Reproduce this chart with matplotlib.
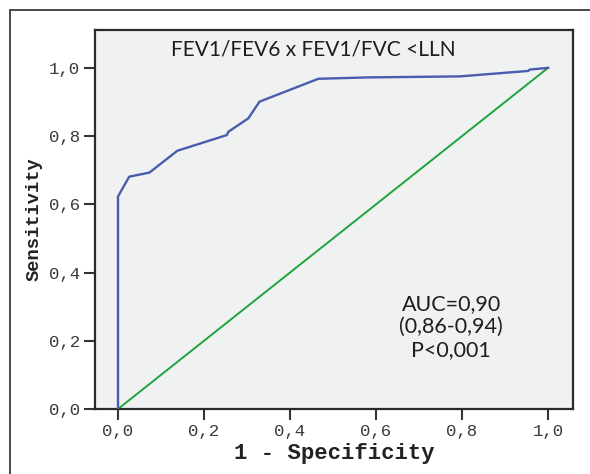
import matplotlib
matplotlib.use("Agg")
import matplotlib.pyplot as plt
from matplotlib.patches import Rectangle

# ROC curve (1 - specificity, sensitivity)
fpr = [0.0, 0.0, 0.026, 0.073, 0.138, 0.253, 0.257, 0.303, 0.329, 0.466, 0.58, 0.795, 0.954, 0.957, 1.0]
tpr = [0.0, 0.623, 0.681, 0.693, 0.757, 0.803, 0.813, 0.852, 0.901, 0.968, 0.972, 0.975, 0.991, 0.995, 1.0]

ref_line = [0.0, 1.0]
ticks = [0.0, 0.2, 0.4, 0.6, 0.8, 1.0]
tick_labels = ["0,0", "0,2", "0,4", "0,6", "0,8", "1,0"]

title = "FEV1/FEV6 x FEV1/FVC <LLN"
stats_text = "AUC=0,90\n(0,86-0,94)\nP<0,001"

mono = "Liberation Mono"

fig = plt.figure(figsize=(5.9, 4.74), dpi=100)
ax = fig.add_axes([95 / 590, 1 - 409 / 474, (573 - 95) / 590, (409 - 30) / 474])

# outer frame of the figure (only left and top edges visible)
fig.patches.append(Rectangle((10 / 590, -0.1), 1.2, 1 - 10 / 474 + 0.1,
                             transform=fig.transFigure, fill=False,
                             edgecolor="#3a3a3a", linewidth=1.3))

ax.set_facecolor("#f0f1f1")
ax.plot(ref_line, ref_line, color="#20a33a", linewidth=1.4, zorder=2)
ax.plot(fpr, tpr, color="#4a5cae", linewidth=1.7, zorder=3)

ax.set_xlim(-0.0535, 1.058)
ax.set_ylim(0, 1.111)
ax.set_xticks(ticks)
ax.set_yticks(ticks)
ax.set_xticklabels(tick_labels, fontfamily=mono, fontsize=12.5, color="#3a3a3a")
ax.set_yticklabels(tick_labels, fontfamily=mono, fontsize=12.5, color="#3a3a3a")
ax.tick_params(axis="both", direction="out", length=8, width=1.5, color="#333333", pad=3)

for s in ax.spines.values():
    s.set_color("#2a2a2a")
    s.set_linewidth(1.6)

ax.set_xlabel("1 - Specificity", fontfamily=mono, fontweight="bold", fontsize=16,
              color="#222222", labelpad=3)
ax.set_ylabel("Sensitivity", fontfamily=mono, fontweight="bold", fontsize=13.5,
              color="#222222", labelpad=4)

ax.text(0.453, 1.053, title, fontfamily="Lato", fontsize=15, color="#1e1e1e",
        ha="center", va="center")
ax.text(0.775, 0.24, stats_text, fontfamily="Lato", fontsize=15.5, color="#1e1e1e",
        ha="center", va="center", linespacing=1.2)

fig.savefig("out.png", dpi=100)
